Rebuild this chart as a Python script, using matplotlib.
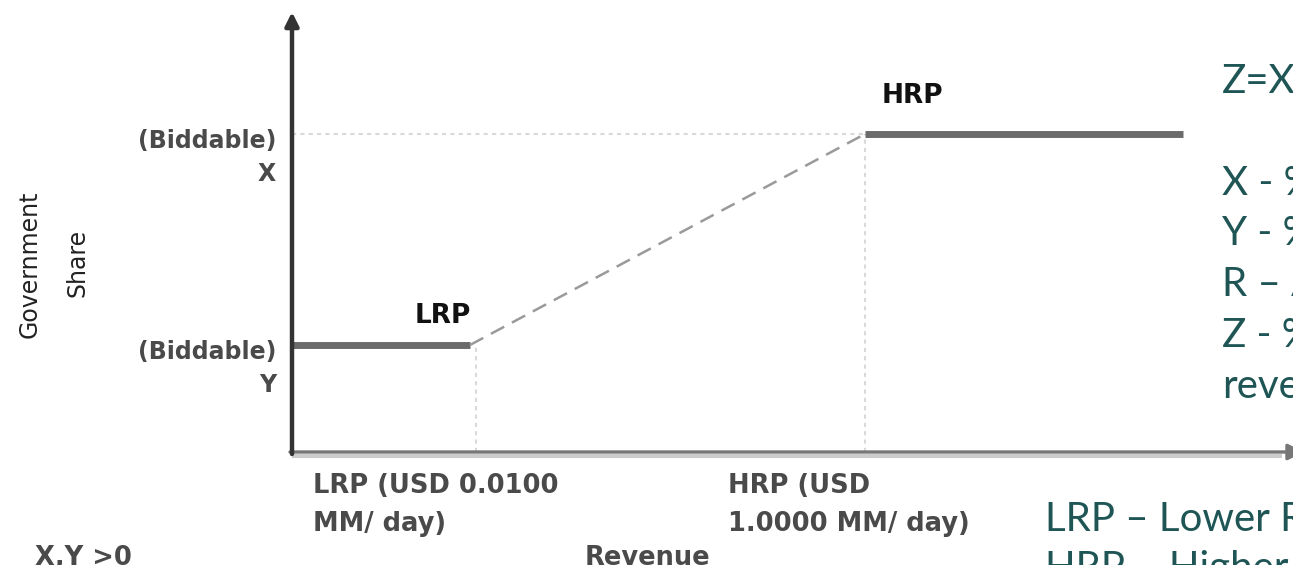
import matplotlib
matplotlib.use("Agg")
import matplotlib.pyplot as plt

# ---- data (chart units: 1 unit ~ 100 px, origin at the axes corner) ----
rev_lrp = 1.78      # lower revenue point
rev_hrp = 5.73      # higher revenue point
rev_end = 8.91      # end of the flat top line
share_y = 1.07      # Y (biddable) share
share_x = 3.18      # X (biddable) share

low_x = [0.0, rev_lrp]
low_y = [share_y, share_y]
ramp_x = [rev_lrp, rev_hrp]
ramp_y = [share_y, share_x]
high_x = [rev_hrp, rev_end]
high_y = [share_x, share_x]

xlabels = [("LRP (USD 0.0100", "MM/ day)"), ("HRP (USD", "1.0000 MM/ day)")]
xlabel_pos = [0.21, 4.36]
ylabels = [("(Biddable)", "X"), ("(Biddable)", "Y")]

notes = ["Z=X", "X - %", "Y - %", "R – A", "Z - %", "revenue"]
note_y = [3.59, 2.57, 2.07, 1.56, 1.05, 0.54]
legend_notes = ["LRP – Lower Revenue Point", "HRP – Higher Revenue Point"]
legend_y = [-0.79, -1.28]

teal = "#1f5555"
grey_txt = "#4a4a4a"

fig = plt.figure(figsize=(12.93, 5.65), dpi=100)
ax = fig.add_axes([0, 0, 1, 1])
ax.set_xlim(-2.92, 10.01)
ax.set_ylim(-1.13, 4.52)
ax.axis("off")

# guides
ax.plot([0, rev_hrp], [share_x, share_x], color="#d9d9d9", lw=1.5, dashes=(2, 2))
ax.plot([rev_lrp + 0.06, rev_lrp + 0.06], [0, share_y], color="#d9d9d9", lw=1.5, dashes=(2, 2))
ax.plot([rev_hrp, rev_hrp], [0, share_x], color="#d9d9d9", lw=1.5, dashes=(2, 2))

# axes with arrows
ax.plot([0, 9.9], [-0.035, -0.035], color="#cccccc", lw=3, solid_capstyle="butt")
ax.annotate("", xy=(10.12, 0), xytext=(-0.02, 0), annotation_clip=False,
            arrowprops=dict(arrowstyle="-|>", lw=2.4, color="#777777", mutation_scale=24,
                            shrinkA=0, shrinkB=0))
ax.annotate("", xy=(0, 4.40), xytext=(0, -0.02), annotation_clip=False,
            arrowprops=dict(arrowstyle="-|>", lw=3.2, color="#333333", mutation_scale=20,
                            shrinkA=0, shrinkB=0))

# government share curve
ax.plot(low_x, low_y, color="#6b6b6b", lw=5, solid_capstyle="butt")
ax.plot(ramp_x, ramp_y, color="#9a9a9a", lw=1.8, dashes=(6, 3.5))
ax.plot(high_x, high_y, color="#6b6b6b", lw=5, solid_capstyle="butt")

# point labels
lab = dict(fontfamily="DejaVu Sans", fontweight="bold", fontsize=19, color="#111111",
           ha="center", va="center")
ax.text(1.51, 1.36, "LRP", **lab)
ax.text(6.20, 3.56, "HRP", **lab)

# y-side labels
yl = dict(fontfamily="DejaVu Sans", fontweight="bold", fontsize=17, color=grey_txt,
          ha="right", va="center")
for (top, bot), lvl in zip(ylabels, [share_x, share_y]):
    ax.text(-0.16, lvl - 0.07, top, **yl)
    ax.text(-0.16, lvl - 0.40, bot, **yl)

ax.text(-2.62, 1.88, "Government", rotation=90, fontsize=17, color="#222222",
        ha="center", va="center")
ax.text(-2.15, 1.89, "Share", rotation=90, fontsize=17, color="#222222",
        ha="center", va="center")

# x-side labels
xl = dict(fontfamily="DejaVu Sans", fontweight="bold", fontsize=18.5, color=grey_txt,
          ha="left", va="baseline")
for (l1, l2), xp in zip(xlabels, xlabel_pos):
    ax.text(xp, -0.41, l1, **xl)
    ax.text(xp, -0.79, l2, **xl)
ax.text(2.93, -0.93, "Revenue", fontfamily="DejaVu Sans", fontweight="bold",
        fontsize=18.5, color=grey_txt, ha="left", va="top")
ax.text(-2.57, -0.93, "X,Y >0", fontfamily="DejaVu Sans", fontweight="bold",
        fontsize=18.5, color=grey_txt, ha="left", va="top")

# explanatory notes on the right
for s, yp in zip(notes, note_y):
    ax.text(9.30, yp, s, fontfamily="Lato", fontsize=29, color=teal,
            ha="left", va="baseline")
for s, yp in zip(legend_notes, legend_y):
    ax.text(7.53, yp, s, fontfamily="Lato", fontsize=29, color=teal,
            ha="left", va="baseline")

fig.savefig("out.png", dpi=100)
